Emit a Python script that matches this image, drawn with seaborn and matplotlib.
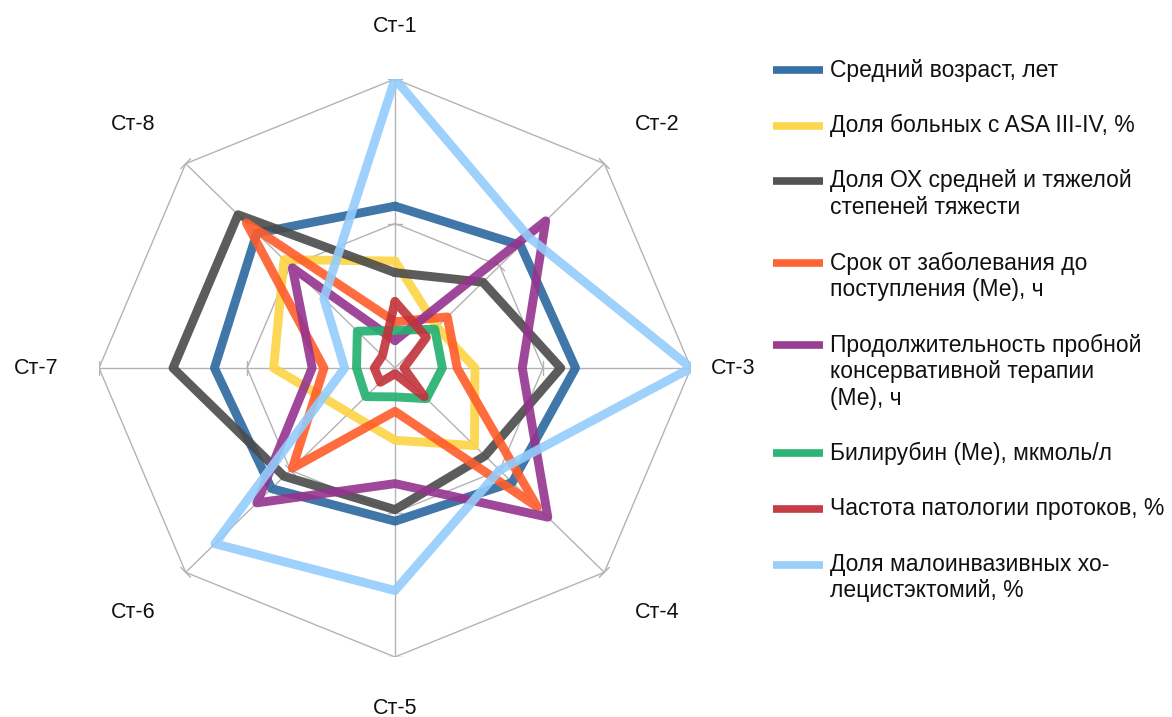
import numpy as np
import pandas as pd
import matplotlib
matplotlib.use("Agg")
import matplotlib.pyplot as plt
import seaborn as sns
from matplotlib.lines import Line2D

# ---- data -------------------------------------------------------------
categories = ["Ст-1", "Ст-2", "Ст-3", "Ст-4", "Ст-5", "Ст-6", "Ст-7", "Ст-8"]

series_labels = [
    "Средний возраст, лет",
    "Доля больных с ASA III-IV, %",
    "Доля ОХ средней и тяжелой\nстепеней тяжести",
    "Срок от заболевания до\nпоступления (Ме), ч",
    "Продолжительность пробной\nконсервативной терапии\n(Ме), ч",
    "Билирубин (Ме), мкмоль/л",
    "Частота патологии протоков, %",
    "Доля малоинвазивных хо-\nлецистэктомий, %",
]

age_mean = [56, 60, 61, 56, 53, 59, 61, 66]
asa_share = [37, 20, 27, 38, 25, 22, 41, 53]
severe_share = [33, 42, 56, 43, 49, 53, 75, 75]
onset_time = [16, 25, 21, 68, 15, 49, 24, 71]
conservative_time = [9.5, 72, 43, 73, 40, 66, 28, 49]
bilirubin = [13, 19, 16, 15, 10, 14, 13, 18]
duct_pathology = [23, 15, 3, 14, 2, 7, 7, 6]
mini_invasive = [100, 64, 100, 50, 77, 86, 17, 34]

series_values = [age_mean, asa_share, severe_share, onset_time,
                 conservative_time, bilirubin, duct_pathology, mini_invasive]

colors = ["#2b689f", "#fdd443", "#4a4a4a", "#ff5c2a",
          "#95338d", "#22b06f", "#c2323a", "#94ccfb"]

r_max = 100
rings = [50, 100]

# ---- theme ------------------------------------------------------------
sns.set_theme(style="white")
plt.rcParams["font.family"] = ["Liberation Sans", "DejaVu Sans"]

W, H = 1172, 717
cx, cy = 395, 368          # chart centre, px
rx, ry = 296, 289          # outer radius in px (horizontal / vertical)

fig = plt.figure(figsize=(W / 100, H / 100), dpi=100)
fig.patch.set_facecolor("white")
ax = fig.add_axes([(cx - rx) / W, (H - cy - ry) / H, 2 * rx / W, 2 * ry / H])
ax.set_xlim(-r_max, r_max)
ax.set_ylim(-r_max, r_max)
ax.axis("off")

n = len(categories)
theta = np.arange(n) * 2 * np.pi / n
theta_c = np.append(theta, theta[0])

# ---- grid: octagonal rings, spokes and tick marks ---------------------
grid_color = "#b3b3b3"
for ring in rings:
    ax.plot(ring * np.sin(theta_c), ring * np.cos(theta_c),
            color=grid_color, lw=1.0, zorder=1)
for t in theta:
    ax.plot([0, r_max * np.sin(t)], [0, r_max * np.cos(t)],
            color=grid_color, lw=1.0, zorder=1)
half_tick = 7  # px
for ring in rings:
    for t in theta:
        bx, by = ring * np.sin(t), ring * np.cos(t)
        dx = half_tick * np.cos(t) * r_max / rx
        dy = -half_tick * np.sin(t) * r_max / ry
        ax.plot([bx - dx, bx + dx], [by - dy, by + dy],
                color=grid_color, lw=1.0, zorder=1)

# ---- series -----------------------------------------------------------
rows = []
for name, vals in zip(series_labels, series_values):
    v = np.append(vals, vals[0])
    for k, (val, t) in enumerate(zip(v, theta_c)):
        rows.append({"series": name, "order": k,
                     "x": val * np.sin(t), "y": val * np.cos(t)})
df = pd.DataFrame(rows)

palette = dict(zip(series_labels, colors))
sns.lineplot(data=df, x="x", y="y", hue="series", hue_order=series_labels,
             units="series", estimator=None, sort=False, palette=palette,
             linewidth=6.4, alpha=0.9, legend=False, ax=ax,
             solid_joinstyle="round", solid_capstyle="round", zorder=3)

# ---- category labels --------------------------------------------------
label_px = [(395, 27), (657, 125), (733, 368), (657, 612),
            (395, 708), (133, 612), (36, 368), (133, 125)]
for lab, (px, py) in zip(categories, label_px):
    fig.text(px / W, 1 - py / H, lab, ha="center", va="center",
             fontsize=15.5, color="#111111")

# ---- legend -----------------------------------------------------------
y = 70
line_h = 26.5
for name, col in zip(series_labels, colors):
    lines = name.split("\n")
    fig.add_artist(Line2D([773 / W, 823 / W], [1 - y / H, 1 - y / H],
                          transform=fig.transFigure, color=col, lw=5.5,
                          alpha=0.95, solid_capstyle="butt"))
    for j, ln in enumerate(lines):
        fig.text(830 / W, 1 - (y + j * line_h) / H, ln, ha="left",
                 va="center", fontsize=16.5, color="#111111")
    y += 55.5 + line_h * (len(lines) - 1)

fig.savefig("out.png", dpi=100, facecolor="white")
